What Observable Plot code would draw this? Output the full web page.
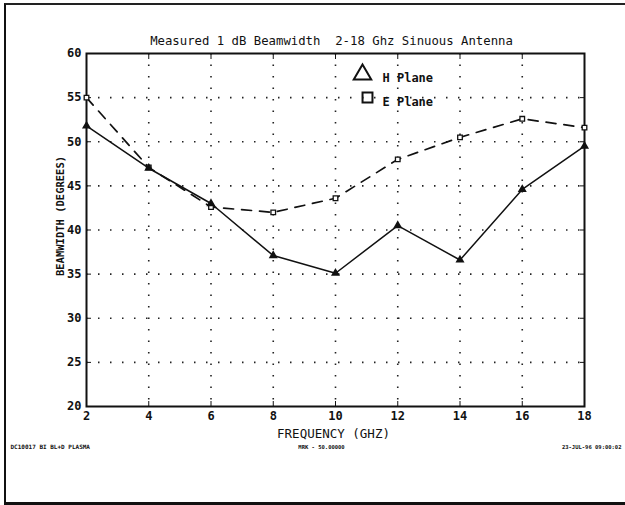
<!DOCTYPE html>
<html><head><meta charset="utf-8">
<script src="https://cdn.jsdelivr.net/npm/d3@7"></script>
<script src="https://cdn.jsdelivr.net/npm/@observablehq/plot@0.6"></script>
<style>
html,body{margin:0;padding:0;background:#fff;overflow:hidden;width:625px;height:505px;}
#wrap{position:relative;width:625px;height:505px;overflow:hidden;}
#border{position:absolute;left:4px;top:3px;width:700px;height:497px;border-left:2px solid #111;border-top:2px solid #222;border-bottom:3px solid #111;}
#chart{position:absolute;left:0;top:0;}
</style></head><body>
<div id="wrap"><div id="border"></div><div id="chart"></div></div>
<script>
const frequency = [2, 4, 6, 8, 10, 12, 14, 16, 18];
const hPlane = [51.8, 47, 43, 37.1, 35.1, 40.5, 36.6, 44.6, 49.5];
const ePlane = [55, 47.1, 42.6, 42, 43.6, 48, 50.5, 52.6, 51.6];
const xTicks = [2, 4, 6, 8, 10, 12, 14, 16, 18];
const yTicks = [20, 25, 30, 35, 40, 45, 50, 55, 60];
const seriesNames = ["H Plane", "E Plane"];
const title = "Measured 1 dB Beamwidth  2-18 Ghz Sinuous Antenna";
const xLabel = "FREQUENCY (GHZ)";
const yLabel = "BEAMWIDTH (DEGREES)";
const footer = ["DC10017 BI BL+D PLASMA", "MRK - 50.00000", "23-JUL-96 09:00:02"];

const H = frequency.map((f, i) => ({f, v: hPlane[i]}));
const E = frequency.map((f, i) => ({f, v: ePlane[i]}));
const font = "'DejaVu Sans Mono', 'Liberation Mono', monospace";

const chart = Plot.plot({
  width: 625, height: 505,
  marginLeft: 86, marginRight: 41, marginTop: 53, marginBottom: 99,
  style: {fontFamily: font, background: "transparent", color: "#111"},
  x: {domain: [2, 18], ticks: xTicks},
  y: {domain: [20, 60], ticks: yTicks},
  marks: [
    Plot.gridX(xTicks.slice(1, -1), {stroke: "#222", strokeOpacity: 1, strokeWidth: 1.6, strokeDasharray: "1.5,10"}),
    Plot.gridY(yTicks.slice(1, -1), {stroke: "#222", strokeOpacity: 1, strokeWidth: 1.6, strokeDasharray: "1.5,10.5"}),
    Plot.axisX(xTicks, {tickSize: 0, tickPadding: 5, fontSize: 12, fontWeight: "bold", label: null}),
    Plot.axisX(xTicks, {tickSize: -5, text: null, label: null}),
    Plot.axisX(xTicks, {anchor: "top", tickSize: -5, text: null, label: null}),
    Plot.axisY(yTicks, {tickSize: 0, tickPadding: 5, fontSize: 12, fontWeight: "bold", label: null}),
    Plot.axisY(yTicks, {tickSize: -5, text: null, label: null}),
    Plot.axisY(yTicks, {anchor: "right", tickSize: -5, text: null, label: null}),
    Plot.frame({stroke: "#111", strokeWidth: 2}),
    Plot.line(E, {x: "f", y: "v", stroke: "#111", strokeWidth: 1.7, strokeDasharray: "10,8"}),
    Plot.line(H, {x: "f", y: "v", stroke: "#111", strokeWidth: 1.5}),
    Plot.dot(E, {x: "f", y: "v", symbol: "square", r: 2.6, stroke: "#111", fill: "#fff", strokeWidth: 1.3}),
    Plot.dot(H, {x: "f", y: "v", symbol: "triangle", r: 2.4, fill: "#111", stroke: "#111"}),
    // legend
    Plot.dot([seriesNames[0]], {frameAnchor: "top-left", dx: 276, dy: 21, symbol: "triangle", r: 6.5, stroke: "#111", strokeWidth: 2, fill: "none"}),
    Plot.dot([seriesNames[1]], {frameAnchor: "top-left", dx: 281, dy: 44, symbol: "square", r: 5.6, stroke: "#111", strokeWidth: 2, fill: "none"}),
    Plot.text([seriesNames[0]], {frameAnchor: "top-left", dx: 296, dy: 20, text: d => d, textAnchor: "start", fontSize: 12, fontWeight: "bold", fill: "#111"}),
    Plot.text([seriesNames[1]], {frameAnchor: "top-left", dx: 296, dy: 44, text: d => d, textAnchor: "start", fontSize: 12, fontWeight: "bold", fill: "#111"}),
    // titles
    Plot.text([title], {frameAnchor: "top", dy: -17, dx: -4, text: d => d, fontSize: 12.3, fill: "#111"}),
    Plot.text([xLabel], {frameAnchor: "bottom", dy: 31, dx: -2, text: d => d, fontSize: 12.5, fill: "#111"}),
    Plot.text([yLabel], {frameAnchor: "left", textAnchor: "middle", dx: -26, dy: -14, rotate: -90, text: d => d, fontSize: 10.5, fontWeight: "bold", fill: "#111"}),
    Plot.text([footer[0]], {frameAnchor: "bottom-left", dx: -76, dy: 42, text: d => d, textAnchor: "start", fontSize: 6, fontWeight: "bold", fill: "#111"}),
    Plot.text([footer[1]], {frameAnchor: "bottom", dx: -14, dy: 42, text: d => d, fontSize: 5.5, fontWeight: "bold", fill: "#111"}),
    Plot.text([footer[2]], {frameAnchor: "bottom-right", dx: 37, dy: 42, text: d => d, textAnchor: "end", fontSize: 5.5, fontWeight: "bold", fill: "#111"})
  ]
});
document.getElementById("chart").appendChild(chart);
</script>
</body></html>
